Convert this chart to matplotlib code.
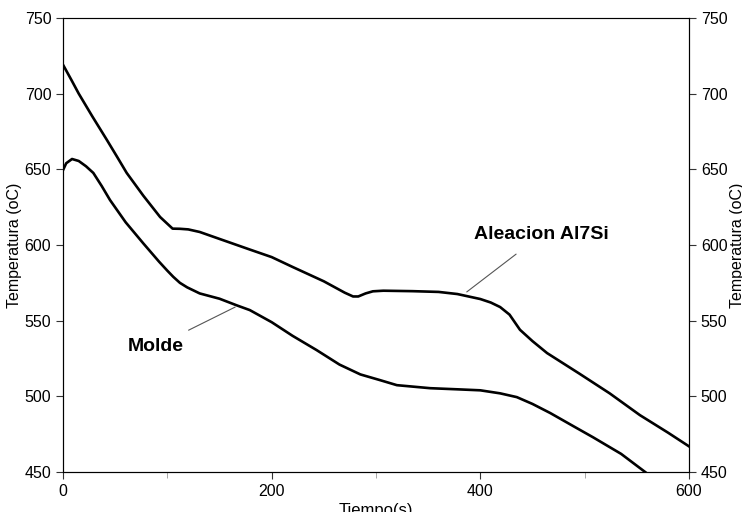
import numpy as np
import matplotlib
matplotlib.use('Agg')
import matplotlib.pyplot as plt

plt.rcParams['font.family'] = ['Liberation Sans', 'DejaVu Sans']

# curva de la aleacion
t_alea = [0, 8, 15, 28, 42, 52, 61, 77, 93, 100, 105, 112, 120, 131, 150, 179, 200, 220, 250,
          270, 278, 283, 290, 297, 307, 335, 360, 378, 400, 410, 419, 428, 438, 450, 464, 495,
          524, 553, 580, 600]
T_alea = [719, 709, 700, 685, 669.4, 658, 647.6, 632.5, 618.5, 614, 610.8, 610.7, 610.3, 608.6,
          604, 597, 592, 585.5, 576, 568.5, 566, 566, 568, 569.4, 569.8, 569.5, 569, 567.6, 564.3,
          562, 559, 554, 544, 536.5, 528.6, 515, 502, 487.6, 476, 467]

# curva del molde
t_molde = [0, 3, 8.6, 15, 22, 29, 37, 45, 60, 77, 92, 100, 105.6, 112, 119, 131, 150, 167,
           179, 200, 220, 243, 265, 285, 304, 320, 352, 380, 400, 419, 435, 450, 467, 490, 508,
           535, 560]
T_molde = [649.5, 654, 656.8, 655.5, 652, 647.6, 639, 629.7, 615, 601, 589, 583, 579, 575, 572,
           568, 564.5, 560, 557, 549, 540, 530.6, 521, 514.5, 510.7, 507.4, 505.4, 504.6, 504, 502,
           499.5, 495, 489, 480, 473, 462, 449]

fig = plt.figure(figsize=(7.42, 5.12), dpi=100)
ax = fig.add_axes([0.085, 0.078, 0.8435, 0.887])
ax.plot(t_alea, T_alea, color='black', lw=1.9, solid_joinstyle='round')
ax.plot(t_molde, T_molde, color='black', lw=1.9, solid_joinstyle='round')

ax.set_xlim(0, 600)
ax.set_ylim(450, 750)
ax.set_xticks([0, 200, 400, 600])
ax.set_xticks([100, 300, 500], minor=True)
ax.set_yticks(np.arange(450, 751, 50))
ax.tick_params(axis='both', labelsize=11.5, length=5, color='#333333')
ax.tick_params(axis='x', which='minor', length=4, color='#999999')
ax.spines['top'].set_color('#777777')
for s in ['left', 'bottom', 'right']:
    ax.spines[s].set_color('#222222')
ax.set_ylabel('Temperatura (oC)', fontsize=11.5, labelpad=2)
ax.set_xlabel('Tiempo(s)', fontsize=12, labelpad=3)

ax2 = ax.twinx()
ax2.set_ylim(450, 750)
ax2.set_yticks(np.arange(450, 751, 50))
ax2.tick_params(axis='y', labelsize=11.5, length=5, color='#333333')
ax2.set_ylabel('Temperatura (oC)', fontsize=11.5, labelpad=2)

ax.annotate('Aleacion Al7Si', xy=(387, 569), xytext=(459, 607),
            fontsize=14, fontweight='bold', ha='center', va='center',
            arrowprops=dict(arrowstyle='-', color='#555555', lw=0.8, shrinkA=10, shrinkB=0))
ax.annotate('Molde', xy=(165, 559), xytext=(89, 533),
            fontsize=14, fontweight='bold', ha='center', va='center',
            arrowprops=dict(arrowstyle='-', color='#555555', lw=0.8, shrinkA=8, shrinkB=0))

fig.savefig('out.png', dpi=100)
